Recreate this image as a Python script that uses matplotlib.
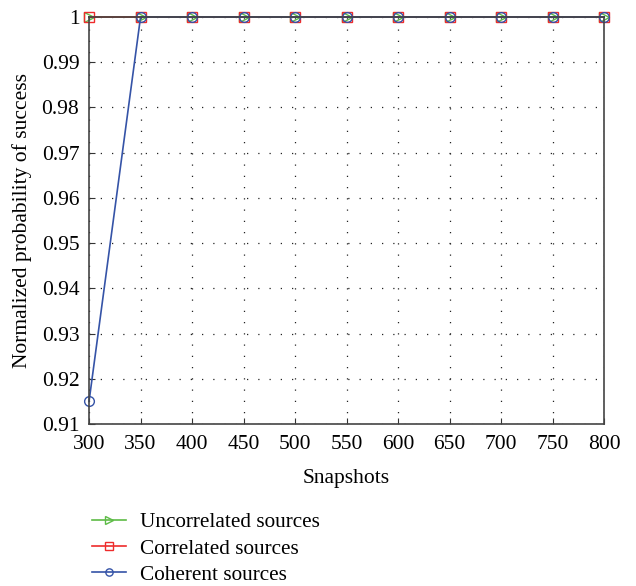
import matplotlib.pyplot as plt

plt.rcParams['font.family'] = ['Liberation Serif', 'DejaVu Serif']

snapshots = [300, 350, 400, 450, 500, 550, 600, 650, 700, 750, 800]
uncorrelated = [1, 1, 1, 1, 1, 1, 1, 1, 1, 1, 1]
correlated = [1, 1, 1, 1, 1, 1, 1, 1, 1, 1, 1]
coherent = [0.915, 1, 1, 1, 1, 1, 1, 1, 1, 1, 1]

fig = plt.figure(figsize=(6.36, 5.86), dpi=100)
ax = fig.add_axes([0.14, 0.2765, 0.81, 0.6945])

ax.plot(snapshots, uncorrelated, color='#5dbb46', marker='>', markersize=7,
        markerfacecolor='none', lw=1.2, label='Uncorrelated sources', clip_on=False)
ax.plot(snapshots, correlated, color='#ee2b2b', marker='s', markersize=7,
        markerfacecolor='none', lw=1.2, label='Correlated sources', clip_on=False)
ax.plot(snapshots, coherent, color='#3553a7', marker='o', markersize=7,
        markerfacecolor='none', lw=1.2, label='Coherent sources', clip_on=False)

ax.set_xlim(300, 800)
ax.set_ylim(0.91, 1)
ax.set_xticks(range(300, 801, 50))
ax.set_yticks([0.91, 0.92, 0.93, 0.94, 0.95, 0.96, 0.97, 0.98, 0.99, 1])
ax.set_yticklabels(['0.91', '0.92', '0.93', '0.94', '0.95', '0.96', '0.97',
                    '0.98', '0.99', '1'])
ax.grid(True, linestyle=(0, (1, 8)), color='#222222', lw=0.9)
ax.tick_params(direction='in', labelsize=15.5, length=4, color='#333333')
ax.tick_params(axis='x', pad=8)
ax.tick_params(axis='y', pad=7)
for s in ax.spines.values():
    s.set_color('#444444')
    s.set_linewidth(1.2)

ax.set_xlabel('Snapshots', fontsize=15.5, labelpad=11)
ax.set_ylabel('Normalized probability of success', fontsize=15.5, labelpad=7)

fig.legend(loc='upper left', bbox_to_anchor=(0.132, 0.14), frameon=False,
           fontsize=15.3, handlelength=1.6, handletextpad=0.65, labelspacing=0.3,
           markerscale=0.75, borderaxespad=0)

fig.savefig('out.png', dpi=100)
